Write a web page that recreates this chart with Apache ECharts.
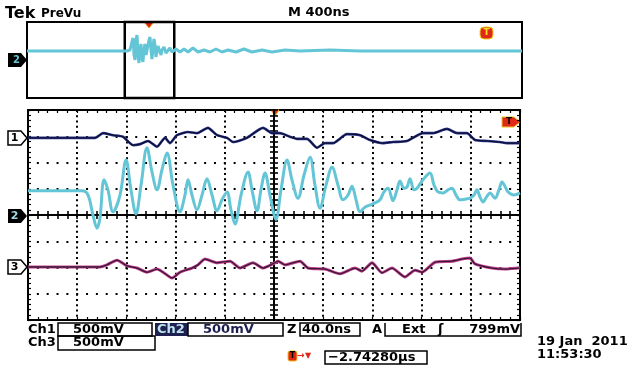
<!DOCTYPE html>
<html>
<head>
<meta charset="utf-8">
<script src="https://cdn.jsdelivr.net/npm/echarts@6.0.0/dist/echarts.min.js"></script>
<style>
html,body{margin:0;padding:0;background:#fff;}
#c{width:634px;height:366px;}
</style>
</head>
<body>
<div id="c"></div>
<script>
// ---- Data (time in ns, voltage in V relative to each channel's ground marker) ----
const ch1TimeNs = [0,26,54.5,61,69.1,77.2,85.4,91.1,97.6,104.9,111.4,115.4,121.1,130.1,137.4,146.3,153.7,161.8,166.7,178,191.1,198.4,204.9,213,218.7,226.8,235,241.5,248,259.3,269.9,278,288.6,296.7,308.1,321.1,329.3,340.6,348.8,356.9,363.4,373.2,383.7,389.4,400];
const ch1Volts = [-0.03,-0.03,-0.03,0.06,0.02,-0.01,-0.17,-0.15,-0.09,-0.2,-0.03,-0.13,0.02,0.08,0.06,0.16,0.02,-0.03,-0.11,-0.03,0.16,0.06,0.06,-0.01,-0.05,-0.05,-0.22,-0.13,-0.13,0.04,0.02,-0.07,-0.13,-0.11,-0.09,0.06,0.06,0.14,0.06,0.06,-0.07,-0.09,-0.11,-0.13,-0.13];

const ch2TimeNs = [0,26,43.9,48.8,52.8,56.1,58.5,61.8,65,69.1,74.8,79.7,83.7,87.8,91.9,96.7,100.8,104.9,108.9,113,117.9,123.6,127.6,130.1,133.3,137.4,141.5,145.5,149.6,153.7,157.7,161.8,165,168.3,173.2,178.9,182.1,186.2,189.4,192.7,196.7,201.6,205.7,210.6,214.6,219.5,224.4,229.3,233.3,237.4,242.3,247.2,252,256.1,260.2,263.4,266.7,269.9,274,278,282.1,286.2,289.4,292.7,296.7,300,302.4,305.7,308.1,310.6,313.8,316.3,321.1,326.8,330.1,333.3,337.4,341.5,344.7,348,351.2,355.3,359.3,362.6,365,367.5,369.9,373.2,375.6,379.7,382.9,385.4,388.6,390.2,395.1,400];
const ch2Volts = [0.46,0.46,0.46,0.38,0,-0.25,-0.06,0.67,0.48,0.06,0.38,1.05,0.48,0.02,0.57,1.28,0.82,0.48,0.86,1.18,0.57,0.06,0.38,0.67,0.38,0.1,0.38,0.69,0.38,0.08,0.29,0.44,0.1,-0.17,0.38,0.82,0.48,0.08,0.48,0.8,0.38,-0.08,0.48,1.05,0.67,0.32,0.76,1.1,0.57,0.13,0.57,0.91,0.57,0.29,0.38,0.55,0.29,0.06,0.15,0.19,0.23,0.29,0.44,0.51,0.27,0.48,0.65,0.51,0.53,0.69,0.48,0.51,0.67,0.8,0.57,0.44,0.42,0.48,0.51,0.38,0.29,0.3,0.32,0.38,0.48,0.34,0.25,0.36,0.42,0.32,0.48,0.63,0.51,0.44,0.38,0.42];

const ch3TimeNs = [0,26,58.5,64.2,72.4,80.5,88.6,96.7,104.9,109.8,117.1,123.6,133.3,138.2,143.9,153.7,164.2,172.4,182.9,191.1,200.8,203.3,209,221.1,227.6,241.5,253.7,265.9,271.5,279.7,287.8,295.9,306.5,314.6,320.3,330.9,344.7,352.8,359.3,363.4,377.2,387.8,398.4,400];
const ch3Volts = [0.01,0.01,0.01,0.05,0.14,0.03,-0.01,-0.09,-0.03,-0.09,-0.2,-0.09,-0.01,0.05,0.16,0.09,0.12,-0.01,0.09,-0.01,0.09,0.12,0.05,0.12,-0.01,-0.03,-0.12,-0.01,-0.07,0.09,-0.1,-0.01,-0.18,-0.05,-0.09,0.1,0.12,0.16,0.18,0.07,-0.01,-0.03,-0.01,-0.01];

const previewTimeNs = [0,808,832,848,857,865,873,881,889,897,905,913,921,929,937,945,953,962,970,978,986,994,1002,1010,1018,1026,1034,1042,1050,1058,1066,1075,1083,1091,1107,1123,1139,1155,1172,1204,1236,1269,1301,1341,1382,1430,1479,1527,1576,1624,1689,1753,1818,1899,1980,2085,2206,2448,2691,4000];
const previewVolts = [0,0,0.02,0.18,0.26,-0.08,-0.18,0.22,0.32,-0.08,-0.24,0.02,0.14,-0.14,-0.22,0.02,0.14,-0.08,-0.12,0.12,0.22,0.28,0.02,-0.16,0.06,0.24,0.12,-0.12,-0.08,0.1,0.12,-0.02,-0.08,0.02,0.08,-0.04,-0.06,0.06,-0.02,0.04,-0.02,0.04,-0.02,0.06,-0.02,0.02,-0.02,0.04,-0.02,0.02,-0.02,0.04,-0.02,0.02,-0.02,0.02,0,0.02,0,0];
const zoomWindowNs = [790, 1190];

// Channel vertical ranges (V) for the 8-division screen, 500 mV/div
const ch1Range = [-3.5, 0.5];   // ground marker at +3 div
const ch2Range = [-2, 2];       // ground marker at 0 div
const ch3Range = [-1, 3];       // ground marker at -2 div

const zip = (a, b) => a.map((v, i) => [v, b[i]]);

const BLACK = '#000';
const FONT = 'bold 13px "DejaVu Sans", sans-serif';
const G = {left: 28, top: 110, width: 492, height: 210};

function borderAxis(pos, extra) {
  return Object.assign({
    type: 'value', position: pos,
    axisLine: {show: false, onZero: false},
    axisTick: {show: true, inside: true, length: 3, lineStyle: {color: BLACK, width: 1.2}},
    minorTick: {show: true, splitNumber: 5, length: 3, lineStyle: {color: BLACK, width: 1.2}},
    axisLabel: {show: false},
    splitLine: {show: false}
  }, extra);
}
function crossAxis(pos, extra) {
  return Object.assign({
    type: 'value', position: pos,
    axisLine: {show: true, onZero: true, lineStyle: {color: BLACK, width: 2}},
    axisTick: {show: true, inside: false, length: 4, lineStyle: {color: BLACK, width: 1.6}},
    minorTick: {show: true, splitNumber: 5, length: 4, lineStyle: {color: BLACK, width: 1.6}},
    axisLabel: {show: false},
    splitLine: {show: false}
  }, extra);
}
function hiddenY(grid, range) {
  return {type: 'value', gridIndex: grid, min: range[0], max: range[1], show: false,
          axisLine: {onZero: false}, splitLine: {show: false}};
}

const option = {
  animation: false,
  backgroundColor: '#fff',
  grid: [
    Object.assign({show: true, borderColor: BLACK, borderWidth: 2, backgroundColor: 'transparent'}, G),
    Object.assign({show: false}, G),
    Object.assign({show: false}, G),
    {left: 27, top: 22, width: 495, height: 76, show: true, borderColor: BLACK, borderWidth: 2}
  ],
  xAxis: [
    borderAxis('bottom', {gridIndex: 0, min: 0, max: 400, interval: 40,
      splitLine: {show: true, lineStyle: {color: BLACK, width: 2, type: [2, 3.25]}}}),
    borderAxis('top', {gridIndex: 0, min: 0, max: 400, interval: 40}),
    crossAxis('bottom', {gridIndex: 1, min: -200, max: 200, interval: 40}),
    crossAxis('top', {gridIndex: 2, min: -200, max: 200, interval: 40}),
    {type: 'value', gridIndex: 3, min: 0, max: 4000, show: false, splitLine: {show: false}}
  ],
  yAxis: [
    borderAxis('left', {gridIndex: 0, min: -4, max: 4, interval: 1,
      splitLine: {show: true, lineStyle: {color: BLACK, width: 2, type: [2, 7.84], dashOffset: 1}}}),
    borderAxis('right', {gridIndex: 0, min: -4, max: 4, interval: 1}),
    hiddenY(0, ch1Range),
    hiddenY(0, ch2Range),
    hiddenY(0, ch3Range),
    crossAxis('left', {gridIndex: 1, min: -4, max: 4, interval: 1}),
    crossAxis('right', {gridIndex: 2, min: -4, max: 4, interval: 1}),
    {type: 'value', gridIndex: 3, min: -0.94, max: 0.58, show: false, splitLine: {show: false}}
  ],
  series: [
    {type: 'line', name: 'preview', xAxisIndex: 4, yAxisIndex: 7, data: zip(previewTimeNs, previewVolts),
     showSymbol: false, lineStyle: {color: '#63c5d5', width: 3}, silent: true,
     markArea: {silent: true, itemStyle: {color: 'rgba(0,0,0,0)', borderColor: BLACK, borderWidth: 2.5},
       data: [[{xAxis: zoomWindowNs[0]}, {xAxis: zoomWindowNs[1]}]]}},
    {type: 'line', name: 'Ch2', xAxisIndex: 0, yAxisIndex: 3, data: zip(ch2TimeNs, ch2Volts),
     showSymbol: false, smooth: 0.35, lineStyle: {color: '#63c5d5', width: 3}},
    {type: 'line', name: 'Ch1', xAxisIndex: 0, yAxisIndex: 2, data: zip(ch1TimeNs, ch1Volts),
     showSymbol: false, smooth: 0.2, lineStyle: {color: '#2a3590', width: 2.6}},
    {type: 'line', name: 'Ch1core', xAxisIndex: 0, yAxisIndex: 2, data: zip(ch1TimeNs, ch1Volts),
     showSymbol: false, smooth: 0.2, lineStyle: {color: '#0c0f30', width: 1.3}},
    {type: 'line', name: 'Ch3', xAxisIndex: 0, yAxisIndex: 4, data: zip(ch3TimeNs, ch3Volts),
     showSymbol: false, smooth: 0.2, lineStyle: {color: '#c2408a', width: 3}},
    {type: 'line', name: 'Ch3core', xAxisIndex: 0, yAxisIndex: 4, data: zip(ch3TimeNs, ch3Volts),
     showSymbol: false, smooth: 0.2, lineStyle: {color: '#3a1838', width: 1.3}}
  ],
  graphic: [
    // header
    {type: 'text', x: 5, y: 14, style: {text: 'Tek', font: 'bold 16px "DejaVu Sans", sans-serif', fill: BLACK, verticalAlign: 'middle'}},
    {type: 'text', x: 41, y: 14, style: {text: 'PreVu', font: 'bold 12px "DejaVu Sans", sans-serif', fill: BLACK, verticalAlign: 'middle'}},
    {type: 'text', x: 288, y: 13, style: {text: 'M 400ns', font: FONT, fill: BLACK, verticalAlign: 'middle'}},
    // preview markers
    {type: 'polygon', shape: {points: [[8,53],[21,53],[27,60],[21,67],[8,67]]}, style: {fill: BLACK}},
    {type: 'text', x: 13, y: 60, style: {text: '2', font: 'bold 10px "DejaVu Sans", sans-serif', fill: '#63c5d5', verticalAlign: 'middle'}},
    {type: 'polygon', shape: {points: [[144,22],[154,22],[149,28]]}, style: {fill: '#d82010', stroke: '#f0a020', lineWidth: 1}},
    {type: 'rect', shape: {x: 480, y: 27, width: 13, height: 12, r: 4}, style: {fill: '#e02818', stroke: '#f0d020', lineWidth: 1}},
    {type: 'text', x: 486.5, y: 33, style: {text: 'T', font: 'bold 9px "DejaVu Sans", sans-serif', fill: '#f0e020', align: 'center', verticalAlign: 'middle'}},
    // channel markers
    {type: 'polygon', shape: {points: [[8,131],[21,131],[27,138],[21,145],[8,145]]}, style: {fill: '#fff', stroke: BLACK, lineWidth: 1.5}},
    {type: 'text', x: 14.5, y: 138, style: {text: '1', font: 'bold 11px "DejaVu Sans", sans-serif', fill: BLACK, align: 'center', verticalAlign: 'middle'}},
    {type: 'polygon', shape: {points: [[8,209],[21,209],[27,216],[21,223],[8,223]]}, style: {fill: BLACK}},
    {type: 'text', x: 14.5, y: 216, style: {text: '2', font: 'bold 11px "DejaVu Sans", sans-serif', fill: '#9fdbe4', align: 'center', verticalAlign: 'middle'}},
    {type: 'polygon', shape: {points: [[8,260],[21,260],[27,267],[21,274],[8,274]]}, style: {fill: '#fff', stroke: BLACK, lineWidth: 1.5}},
    {type: 'text', x: 14.5, y: 267, style: {text: '3', font: 'bold 11px "DejaVu Sans", sans-serif', fill: BLACK, align: 'center', verticalAlign: 'middle'}},
    // trigger markers on main screen
    {type: 'polygon', shape: {points: [[271,110],[279,110],[275,116]]}, style: {fill: '#e03010', stroke: '#f0a020', lineWidth: 1}},
    {type: 'polygon', shape: {points: [[502,117],[514,117],[520,122],[514,127],[502,127]]}, style: {fill: '#e02818', stroke: '#f0c020', lineWidth: 1}},
    {type: 'text', x: 509, y: 122, style: {text: 'T', font: 'bold 9px "DejaVu Sans", sans-serif', fill: BLACK, align: 'center', verticalAlign: 'middle'}},
    // status bar
    {type: 'text', x: 28, y: 330, style: {text: 'Ch1', font: FONT, fill: BLACK, verticalAlign: 'middle'}},
    {type: 'rect', shape: {x: 58, y: 323, width: 94, height: 13}, style: {fill: 'transparent', stroke: BLACK, lineWidth: 1.5}},
    {type: 'text', x: 73, y: 330, style: {text: '500mV', font: FONT, fill: BLACK, verticalAlign: 'middle'}},
    {type: 'text', x: 28, y: 343, style: {text: 'Ch3', font: FONT, fill: BLACK, verticalAlign: 'middle'}},
    {type: 'rect', shape: {x: 58, y: 336, width: 97, height: 14}, style: {fill: 'transparent', stroke: BLACK, lineWidth: 1.5}},
    {type: 'text', x: 73, y: 343, style: {text: '500mV', font: FONT, fill: BLACK, verticalAlign: 'middle'}},
    {type: 'rect', shape: {x: 155, y: 323, width: 33, height: 13}, style: {fill: '#1d2050'}},
    {type: 'text', x: 157, y: 330, style: {text: 'Ch2', font: FONT, fill: '#bfe4ee', verticalAlign: 'middle'}},
    {type: 'rect', shape: {x: 188, y: 323, width: 95, height: 13}, style: {fill: 'transparent', stroke: BLACK, lineWidth: 1.5}},
    {type: 'text', x: 203, y: 330, style: {text: '500mV', font: FONT, fill: '#1d2050', verticalAlign: 'middle'}},
    {type: 'text', x: 287, y: 330, style: {text: 'Z', font: FONT, fill: BLACK, verticalAlign: 'middle'}},
    {type: 'rect', shape: {x: 300, y: 323, width: 60, height: 13}, style: {fill: 'transparent', stroke: BLACK, lineWidth: 1.5}},
    {type: 'text', x: 302, y: 330, style: {text: '40.0ns', font: FONT, fill: BLACK, verticalAlign: 'middle'}},
    {type: 'text', x: 372, y: 330, style: {text: 'A', font: FONT, fill: BLACK, verticalAlign: 'middle'}},
    {type: 'polyline', shape: {points: [[385,323],[385,336],[521,336],[521,323]]}, style: {stroke: BLACK, lineWidth: 1.5, fill: null}},
    {type: 'text', x: 402, y: 330, style: {text: 'Ext', font: FONT, fill: BLACK, verticalAlign: 'middle'}},
    {type: 'text', x: 438, y: 330, style: {text: '\u0283', font: FONT, fill: BLACK, verticalAlign: 'middle'}},
    {type: 'text', x: 520, y: 330, style: {text: '799mV', font: FONT, fill: BLACK, align: 'right', verticalAlign: 'middle'}},
    // trigger position
    {type: 'rect', shape: {x: 288, y: 351, width: 9, height: 10, r: 2}, style: {fill: '#e02818', stroke: '#f0c020', lineWidth: 1}},
    {type: 'text', x: 292.5, y: 356, style: {text: 'T', font: 'bold 8px "DejaVu Sans", sans-serif', fill: BLACK, align: 'center', verticalAlign: 'middle'}},
    {type: 'text', x: 297, y: 356, style: {text: '\u2192', font: 'bold 9px "DejaVu Sans", sans-serif', fill: '#e02818', verticalAlign: 'middle'}},
    {type: 'text', x: 305, y: 356, style: {text: '\u25BC', font: 'bold 8px "DejaVu Sans", sans-serif', fill: '#e02818', verticalAlign: 'middle'}},
    {type: 'rect', shape: {x: 325, y: 351, width: 102, height: 13}, style: {fill: 'transparent', stroke: BLACK, lineWidth: 1.5}},
    {type: 'text', x: 328, y: 358, style: {text: '\u22122.74280\u00B5s', font: FONT, fill: BLACK, verticalAlign: 'middle'}},
    // date / time
    {type: 'text', x: 537, y: 342, style: {text: '19 Jan  2011', font: FONT, fill: BLACK, verticalAlign: 'middle'}},
    {type: 'text', x: 537, y: 355, style: {text: '11:53:30', font: FONT, fill: BLACK, verticalAlign: 'middle'}}
  ]
};

const chart = echarts.init(document.getElementById('c'), null, {renderer: 'canvas'});
chart.setOption(option);
</script>
</body>
</html>
